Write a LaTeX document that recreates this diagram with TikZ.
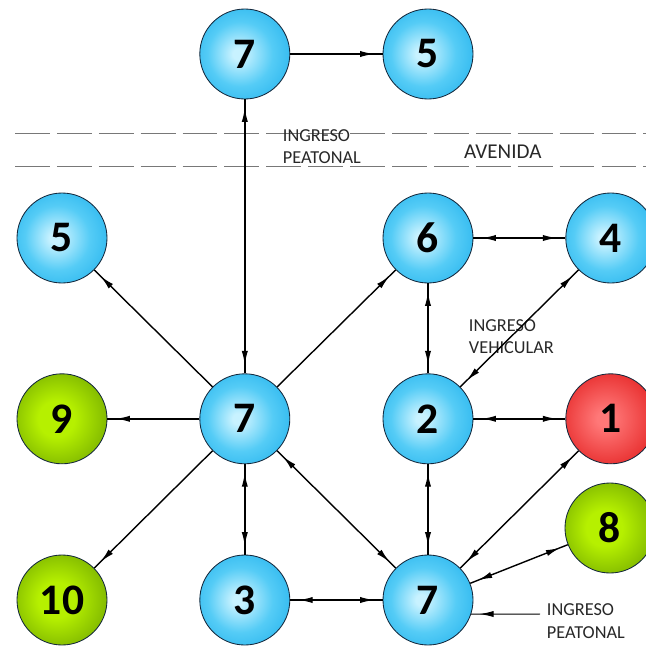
\documentclass[tikz,border=0pt]{standalone}
\usepackage{fontspec}
\setmainfont{Carlito}
\usetikzlibrary{arrows.meta, decorations.markings}

\definecolor{skyIn}{RGB}{200, 242, 255}
\definecolor{skyMid}{RGB}{85, 204, 246}
\definecolor{skyOut}{RGB}{20, 170, 234}
\definecolor{leafIn}{RGB}{182, 240, 0}
\definecolor{leafOut}{RGB}{80, 134, 0}
\definecolor{alarmIn}{RGB}{255, 120, 120}
\definecolor{alarmOut}{RGB}{220, 8, 8}
\definecolor{roadgray}{RGB}{120, 120, 120}
\definecolor{labelgray}{RGB}{40, 40, 40}
\definecolor{rimnavy}{RGB}{20, 40, 60}

\pgfdeclareradialshading{skyball}{\pgfpoint{-4bp}{0bp}}%
    {color(0bp)=(skyIn); color(3bp)=(skyIn); color(18bp)=(skyMid); color(38bp)=(skyOut); color(50bp)=(skyOut)}
\pgfdeclareradialshading{leafball}{\pgfpoint{-4bp}{0bp}}%
    {color(0bp)=(leafIn); color(10bp)=(leafIn); color(44bp)=(leafOut); color(50bp)=(leafOut)}
\pgfdeclareradialshading{alarmball}{\pgfpoint{-4bp}{0bp}}%
    {color(0bp)=(alarmIn); color(4bp)=(alarmIn); color(40bp)=(alarmOut); color(50bp)=(alarmOut)}

\tikzset{
    room/.style = {circle, draw = rimnavy, line width = 0.6pt, minimum size = 2.25cm,
        inner sep = 0pt, font = \fontsize{31}{31}\selectfont\bfseries},
    sky room/.style = {room, shade, shading = skyball},
    leaf room/.style = {room, shade, shading = leafball},
    alarm room/.style = {room, shade, shading = alarmball},
    link/.style = {line width = 1pt},
    tipend/.style = {postaction = {decorate, decoration = {markings,
        mark = at position -6pt with {\arrow{Latex[length = 10pt, width = 4.4pt]}}}}},
    tipstart/.style = {postaction = {decorate, decoration = {markings,
        mark = at position 6pt with {\arrowreversed{Latex[length = 10pt, width = 4.4pt]}}}}},
    road/.style = {roadgray, line width = 0.6pt, dash pattern = {on 24.8pt off 5pt}},
    note/.style = {labelgray, align = left, font = \fontsize{13}{16}\selectfont}
}

\begin{document}
\begin{tikzpicture}
    \useasboundingbox (0, 0) rectangle (16.15, - 16.25);

    % avenida
    \draw[road] (0.375, - 3.33) -- (16.15, - 3.33);
    \draw[road] (0.375, - 4.15) -- (16.15, - 4.15);
    \node[note, anchor = west] (gateN) at (6.95, - 3.66) {INGRESO \\ PEATONAL};
    \node[labelgray, font = \fontsize{15}{15}\selectfont] (street) at (12.57, - 3.8) {AVENIDA};

    % rooms
    \node[sky room] (n7a) at (6.12, - 1.35) {7};
    \node[sky room] (n5a) at (10.7, - 1.35) {5};
    \node[sky room] (n5b) at (1.55, - 5.95) {5};
    \node[sky room] (n6) at (10.7, - 5.95) {6};
    \node[sky room] (n4) at (15.27, - 5.95) {4};
    \node[leaf room] (n9) at (1.55, - 10.47) {9};
    \node[sky room] (n7b) at (6.12, - 10.47) {7};
    \node[sky room] (n2) at (10.7, - 10.47) {2};
    \node[alarm room] (n1) at (15.27, - 10.47) {1};
    \node[leaf room] (n8) at (15.25, - 13.2) {8};
    \node[leaf room] (n10) at (1.55, - 15.0) {10};
    \node[sky room] (n3) at (6.12, - 15.0) {3};
    \node[sky room] (n7c) at (10.7, - 15.0) {7};

    % entrances
    \node[note, anchor = west] (gateV) at (11.6, - 8.42) {INGRESO \\ VEHICULAR};
    \node[note, anchor = west] (gateS) at (13.55, - 15.53) {INGRESO \\ PEATONAL};
    \coordinate (walkS) at (13.5, - 15.35);

    % links
    \draw[link, tipend] (n7a) -- (n5a);
    \draw[link, tipstart, tipend] (n7a) -- (n7b);
    \draw[link, tipend] (n7b) -- (n5b);
    \draw[link, tipend] (n7b) -- (n6);
    \draw[link, tipend] (n7b) -- (n9);
    \draw[link, tipend] (n7b) -- (n10);
    \draw[link, tipstart, tipend] (n7b) -- (n3);
    \draw[link, tipstart, tipend] (n7b) -- (n7c);
    \draw[link, tipstart, tipend] (n6) -- (n4);
    \draw[link, tipstart, tipend] (n6) -- (n2);
    \draw[link, tipstart, tipend] (n4) -- (n2);
    \draw[link, tipstart, tipend] (n2) -- (n1);
    \draw[link, tipstart, tipend] (n2) -- (n7c);
    \draw[link, tipstart, tipend] (n1) -- (n7c);
    \draw[link, tipstart, tipend] (n8) -- (n7c);
    \draw[link, tipstart, tipend] (n3) -- (n7c);
    \draw[line width = 0.7pt, tipend] (walkS) -- (n7c.-18);
\end{tikzpicture}
\end{document}
